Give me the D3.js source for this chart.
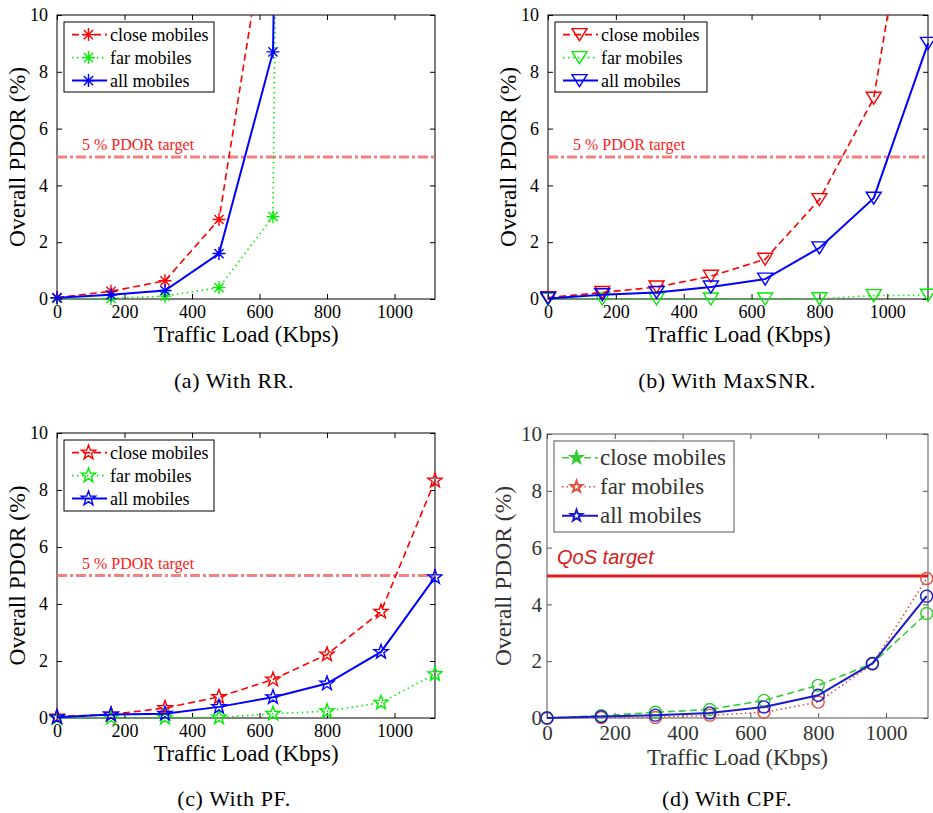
<!DOCTYPE html>
<html>
<head>
<meta charset="utf-8">
<script src="https://cdn.jsdelivr.net/npm/d3@7"></script>
<style>
  html, body { margin: 0; padding: 0; background: #fff; }
  svg { display: block; }
</style>
</head>
<body>
<svg id="chart"></svg>
<script>
// traffic loads (Kbps) shared by all panels
var loads = [0, 160, 320, 480, 640, 800, 960, 1120];
var xTicks = [0, 200, 400, 600, 800, 1000];
var yTicks = [0, 2, 4, 6, 8, 10];
var seriesNames = ["close mobiles", "far mobiles", "all mobiles"];

// (a) RR  -- curves shoot off the top after 480/640
var rrClose = [0.05, 0.27, 0.64, 2.8, 14.7];
var rrFar = [0.02, 0.02, 0.1, 0.4, 2.9, 190];
var rrAll = [0.04, 0.15, 0.3, 1.6, 8.7, 120];

// (b) MaxSNR
var snrClose = [0.05, 0.23, 0.42, 0.8, 1.4, 3.5, 7.07, 18.5];
var snrFar = [0, 0, 0, 0, 0, 0.01, 0.12, 0.13];
var snrAll = [0.02, 0.15, 0.23, 0.42, 0.7, 1.8, 3.55, 9.0];

// (c) PF
var pfClose = [0.05, 0.12, 0.35, 0.74, 1.35, 2.23, 3.73, 8.33];
var pfFar = [0, 0.01, 0.01, 0.02, 0.15, 0.24, 0.54, 1.54];
var pfAll = [0.03, 0.12, 0.15, 0.39, 0.73, 1.21, 2.32, 4.94];

// (d) CPF
var cpfClose = [0, 0.08, 0.2, 0.3, 0.62, 1.15, 1.92, 3.68];
var cpfFar = [0, 0.02, 0.02, 0.1, 0.2, 0.56, 1.9, 4.91];
var cpfAll = [0, 0.05, 0.1, 0.18, 0.39, 0.8, 1.92, 4.29];

var targetPdor = 5;

var SERIF = "Liberation Serif";
var SANS = "Liberation Sans";

var W = 933, H = 813;
var svg = d3.select("#chart").attr("width", W).attr("height", H);
svg.append("rect").attr("width", W).attr("height", H).attr("fill", "#fff");

// custom marker shapes (size = diameter^2)
var asterisk = { draw: function(ctx, size) {
  var r = Math.sqrt(size) / 2;
  for (var k = 0; k < 4; k++) {
    var a = k * Math.PI / 4;
    ctx.moveTo(-r * Math.cos(a), -r * Math.sin(a));
    ctx.lineTo(r * Math.cos(a), r * Math.sin(a));
  }
}};
var triDown = { draw: function(ctx, size) {
  var r = Math.sqrt(size) / 2;
  ctx.moveTo(-r, -0.8 * r);
  ctx.lineTo(r, -0.8 * r);
  ctx.lineTo(0, 0.8 * r);
  ctx.closePath();
}};
var pentagram = { draw: function(ctx, size) {
  var r = Math.sqrt(size) / 2;
  for (var k = 0; k < 10; k++) {
    var rr = k % 2 === 0 ? r : r * 0.4;
    var a = -Math.PI / 2 + k * Math.PI / 5;
    if (k === 0) { ctx.moveTo(rr * Math.cos(a), rr * Math.sin(a)); }
    else { ctx.lineTo(rr * Math.cos(a), rr * Math.sin(a)); }
  }
  ctx.closePath();
}};
var ring = { draw: function(ctx, size) {
  var r = Math.sqrt(size) / 2;
  ctx.moveTo(r, 0);
  ctx.arc(0, 0, r, 0, 2 * Math.PI);
}};

var panels = [
  { id: "a", caption: "(a) With RR.", left: 57, right: 435, top: 15, bottom: 299, xMax: 1120,
    series: [rrClose, rrFar, rrAll], colors: ["#ff0000", "#00ee00", "#0000ff"],
    dash: ["7,4", "1.5,3.5", null], marker: asterisk, mSize: 13,
    legendW: 150, legendH: 70, legendStep: 23, legendFont: 18, tickFont: 18,
    axisColor: "#000", textColor: "#000", target: "5 % PDOR target", capX: 234, capY: 388 },
  { id: "b", caption: "(b) With MaxSNR.", left: 548, right: 928, top: 15, bottom: 299, xMax: 1120,
    series: [snrClose, snrFar, snrAll], colors: ["#ff0000", "#00ee00", "#0000ff"],
    dash: ["7,4", "1.5,3.5", null], marker: triDown, mSize: 15,
    legendW: 152, legendH: 70, legendStep: 23, legendFont: 18, tickFont: 18,
    axisColor: "#000", textColor: "#000", target: "5 % PDOR target", capX: 727, capY: 388 },
  { id: "c", caption: "(c) With PF.", left: 57, right: 435, top: 433, bottom: 718, xMax: 1120,
    series: [pfClose, pfFar, pfAll], colors: ["#ff0000", "#00ee00", "#0000ff"],
    dash: ["7,4", "1.5,3.5", null], marker: pentagram, mSize: 15,
    legendW: 150, legendH: 71, legendStep: 23, legendFont: 18, tickFont: 18,
    axisColor: "#000", textColor: "#000", target: "5 % PDOR target", capX: 234, capY: 806 },
  { id: "d", caption: "(d) With CPF.", left: 547, right: 928, top: 434, bottom: 718, xMax: 1124,
    series: [cpfClose, cpfFar, cpfAll], colors: ["#33cc33", "#e0503a", "#1a1acc"],
    dash: ["7,4", "1.5,3", null], marker: ring, mSize: 12,
    legendW: 180, legendH: 91, legendStep: 29, legendFont: 23, tickFont: 21,
    axisColor: "#555", textColor: "#333", target: "QoS target", capX: 727, capY: 806 }
];

panels.forEach(drawPanel);

function drawPanel(p) {
  var x = d3.scaleLinear().domain([0, p.xMax]).range([p.left, p.right]);
  var y = d3.scaleLinear().domain([0, 10]).range([p.bottom, p.top]);
  var g = svg.append("g").attr("class", "panel-" + p.id);
  var isD = p.id === "d";

  g.append("clipPath").attr("id", "clip-" + p.id)
    .append("rect")
      .attr("x", p.left - 8).attr("y", p.top)
      .attr("width", p.right - p.left + 16).attr("height", p.bottom - p.top + 8);

  // axes with inward ticks on all four sides
  var inner = -5;
  g.append("g").attr("transform", "translate(0," + p.bottom + ")")
    .call(d3.axisBottom(x).tickValues(xTicks).tickFormat(d3.format("d"))
      .tickSizeInner(inner).tickSizeOuter(0).tickPadding(isD ? 7 : 6));
  g.append("g").attr("transform", "translate(0," + p.top + ")")
    .call(d3.axisTop(x).tickValues(xTicks).tickSizeInner(inner).tickSizeOuter(0).tickFormat(""));
  g.append("g").attr("transform", "translate(" + p.left + ",0)")
    .call(d3.axisLeft(y).tickValues(yTicks).tickFormat(d3.format("d"))
      .tickSizeInner(inner).tickSizeOuter(0).tickPadding(isD ? 5 : 9));
  g.append("g").attr("transform", "translate(" + p.right + ",0)")
    .call(d3.axisRight(y).tickValues(yTicks).tickSizeInner(inner).tickSizeOuter(0).tickFormat(""));
  g.selectAll(".domain").remove();
  g.selectAll(".tick line").attr("stroke", p.axisColor);
  g.selectAll(".tick text")
    .attr("font-size", p.tickFont)
    .attr("fill", p.textColor)
    .style("font-family", SERIF);
  g.append("rect")
    .attr("x", p.left).attr("y", p.top)
    .attr("width", p.right - p.left).attr("height", p.bottom - p.top)
    .attr("fill", "none").attr("stroke", p.axisColor).attr("stroke-width", 1);

  // axis labels
  g.append("text")
    .attr("x", (p.left + p.right) / 2).attr("y", p.bottom + (isD ? 47 : 43))
    .attr("text-anchor", "middle").attr("font-size", isD ? 22.5 : 23).attr("fill", p.textColor)
    .style("font-family", SERIF)
    .text("Traffic Load (Kbps)");
  g.append("text")
    .attr("transform", "translate(" + (p.left - (isD ? 36 : 32)) + "," + ((p.top + p.bottom) / 2) + ") rotate(-90)")
    .attr("text-anchor", "middle").attr("font-size", 23.5).attr("fill", p.textColor)
    .style("font-family", SERIF)
    .text("Overall PDOR (%)");

  // target line
  if (isD) {
    g.append("line")
      .attr("x1", p.left).attr("x2", p.right)
      .attr("y1", y(targetPdor)).attr("y2", y(targetPdor))
      .attr("stroke", "#e01b1b").attr("stroke-width", 3);
    g.append("text")
      .attr("x", p.left + 10).attr("y", y(targetPdor) - 12)
      .style("font-family", SANS)
      .attr("font-style", "italic").attr("font-size", 20).attr("fill", "#d42020")
      .text(p.target);
  } else {
    g.append("line")
      .attr("x1", p.left).attr("x2", p.right)
      .attr("y1", y(targetPdor)).attr("y2", y(targetPdor))
      .attr("stroke", "#f48080").attr("stroke-width", 3)
      .attr("stroke-dasharray", "10,3,3,3");
    g.append("text")
      .attr("x", p.left + 25).attr("y", y(targetPdor) - 7)
      .attr("font-size", 16).attr("fill", "#ff1a1a")
      .style("font-family", SERIF)
      .text(p.target);
  }

  // series
  var plot = g.append("g").attr("clip-path", "url(#clip-" + p.id + ")");
  var line = d3.line()
    .x(function(d, i) { return x(loads[i]); })
    .y(function(d) { return y(d); });
  var sym = d3.symbol().type(p.marker).size(p.mSize * p.mSize);

  // draw far first, then close, then all on top
  [1, 0, 2].forEach(function(k) {
    var vals = p.series[k];
    plot.append("path")
      .datum(vals)
      .attr("d", line)
      .attr("fill", "none")
      .attr("stroke", p.colors[k])
      .attr("stroke-width", k === 2 ? 2 : 1.6)
      .attr("stroke-dasharray", p.dash[k]);
    plot.selectAll(".m" + k)
      .data(vals)
      .enter().append("path")
        .attr("class", "m" + k)
        .attr("transform", function(d, i) { return "translate(" + x(loads[i]) + "," + y(d) + ")"; })
        .attr("d", sym)
        .attr("fill", "none")
        .attr("stroke", p.colors[k])
        .attr("stroke-width", 1.4);
  });

  // legend
  var lx = p.left + 7, ly = p.top + 7;
  var legend = g.append("g");
  legend.append("rect")
    .attr("x", lx).attr("y", ly)
    .attr("width", p.legendW).attr("height", p.legendH)
    .attr("fill", "#fff").attr("stroke", p.axisColor).attr("stroke-width", 1);
  var first = isD ? 16.7 : 12.6;
  var ls = isD ? 12 : p.mSize;
  var legSym = d3.symbol().type(isD ? pentagram : p.marker).size(ls * ls);
  seriesNames.forEach(function(name, k) {
    var cy = ly + first + k * p.legendStep;
    legend.append("line")
      .attr("x1", lx + 8).attr("x2", lx + (isD ? 44 : 43))
      .attr("y1", cy).attr("y2", cy)
      .attr("stroke", p.colors[k])
      .attr("stroke-width", k === 2 ? 2 : 1.6)
      .attr("stroke-dasharray", p.dash[k]);
    legend.append("path")
      .attr("transform", "translate(" + (lx + (isD ? 22.5 : 24.5)) + "," + cy + ")")
      .attr("d", legSym)
      .attr("fill", isD && k === 0 ? p.colors[k] : (isD ? "#fff" : "none"))
      .attr("stroke", p.colors[k])
      .attr("stroke-width", isD ? 2 : 1.4);
    legend.append("text")
      .attr("x", lx + 46).attr("y", cy + (isD ? 7.5 : 6))
      .attr("font-size", p.legendFont).attr("fill", p.textColor)
      .style("font-family", SERIF)
      .text(name);
  });

  // caption
  svg.append("text")
    .attr("x", p.capX).attr("y", p.capY)
    .attr("text-anchor", "middle")
    .style("font-family", SERIF)
    .attr("font-size", 22).attr("letter-spacing", 0.6)
    .attr("fill", "#000")
    .text(p.caption);
}
</script>
</body>
</html>
